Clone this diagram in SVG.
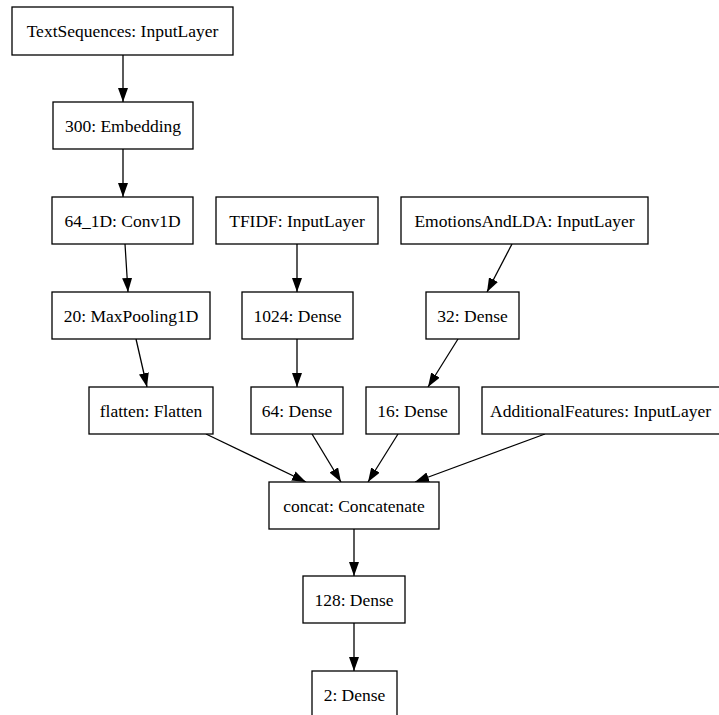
<svg xmlns="http://www.w3.org/2000/svg" width="719" height="715" viewBox="0 0 719 715">
<style>
rect.n{fill:#fff;stroke:#000;stroke-width:1.3}
text{font-family:'Liberation Serif','Times New Roman','DejaVu Serif',serif;font-size:17.5px;fill:#000;text-anchor:middle}
line.e{stroke:#000;stroke-width:1.3;marker-end:url(#ah)}
</style>
<defs>
<marker id="ah" markerUnits="userSpaceOnUse" markerWidth="14" markerHeight="10" viewBox="0 0 14 10" refX="14" refY="5" orient="auto">
<path d="M0,0 L14,5 L0,10 Z" fill="#000"/>
</marker>
</defs>
<rect width="719" height="715" fill="#fff"/>
<g id="edges">
<line class="e" x1="123" y1="55" x2="123" y2="102"/>
<line class="e" x1="123" y1="149" x2="123" y2="197"/>
<line class="e" x1="125" y1="244" x2="128" y2="292"/>
<line class="e" x1="136" y1="339" x2="147" y2="387"/>
<line class="e" x1="297" y1="244" x2="297" y2="292"/>
<line class="e" x1="297" y1="339" x2="297" y2="387"/>
<line class="e" x1="512" y1="244" x2="487" y2="292"/>
<line class="e" x1="458" y1="339" x2="428" y2="387"/>
<line class="e" x1="206" y1="434" x2="306" y2="482"/>
<line class="e" x1="312" y1="434" x2="341" y2="482"/>
<line class="e" x1="398" y1="434" x2="368" y2="482"/>
<line class="e" x1="545" y1="434" x2="415" y2="482"/>
<line class="e" x1="354" y1="529" x2="354" y2="576"/>
<line class="e" x1="354" y1="623" x2="354" y2="671"/>
</g>
<g font-family="Liberation Serif, serif">
<g id="textsequences"><rect class="n" x="12" y="7" width="221" height="48"/><text x="122.5" y="37">TextSequences: InputLayer</text></g>
<g id="embedding"><rect class="n" x="53" y="102" width="140" height="47"/><text x="123" y="131.5">300: Embedding</text></g>
<g id="conv1d"><rect class="n" x="52" y="197" width="141" height="47"/><text x="122.5" y="226.5">64_1D: Conv1D</text></g>
<g id="tfidf"><rect class="n" x="216" y="197" width="162" height="47"/><text x="297" y="226.5">TFIDF: InputLayer</text></g>
<g id="emotions"><rect class="n" x="401" y="197" width="247" height="47"/><text x="524.5" y="226.5">EmotionsAndLDA: InputLayer</text></g>
<g id="maxpool"><rect class="n" x="52" y="292" width="158" height="47"/><text x="131" y="321.5">20: MaxPooling1D</text></g>
<g id="dense1024"><rect class="n" x="242" y="292" width="111" height="47"/><text x="297.5" y="321.5">1024: Dense</text></g>
<g id="dense32"><rect class="n" x="426" y="292" width="93" height="47"/><text x="472.5" y="321.5">32: Dense</text></g>
<g id="flatten"><rect class="n" x="89" y="387" width="124" height="47"/><text x="151" y="416.5">flatten: Flatten</text></g>
<g id="dense64"><rect class="n" x="251" y="387" width="92" height="47"/><text x="297" y="416.5">64: Dense</text></g>
<g id="dense16"><rect class="n" x="366" y="387" width="93" height="47"/><text x="412.5" y="416.5">16: Dense</text></g>
<g id="additional"><rect class="n" x="482" y="387" width="260" height="47"/><text x="490" y="416.5" style="text-anchor:start">AdditionalFeatures: InputLayer</text></g>
<g id="concat"><rect class="n" x="269" y="482" width="170" height="47"/><text x="354" y="511.5">concat: Concatenate</text></g>
<g id="dense128"><rect class="n" x="303" y="576" width="102" height="47"/><text x="354" y="605.5">128: Dense</text></g>
<g id="dense2"><rect class="n" x="312" y="671" width="85" height="47"/><text x="354.5" y="700.5">2: Dense</text></g>
</g>
</svg>
